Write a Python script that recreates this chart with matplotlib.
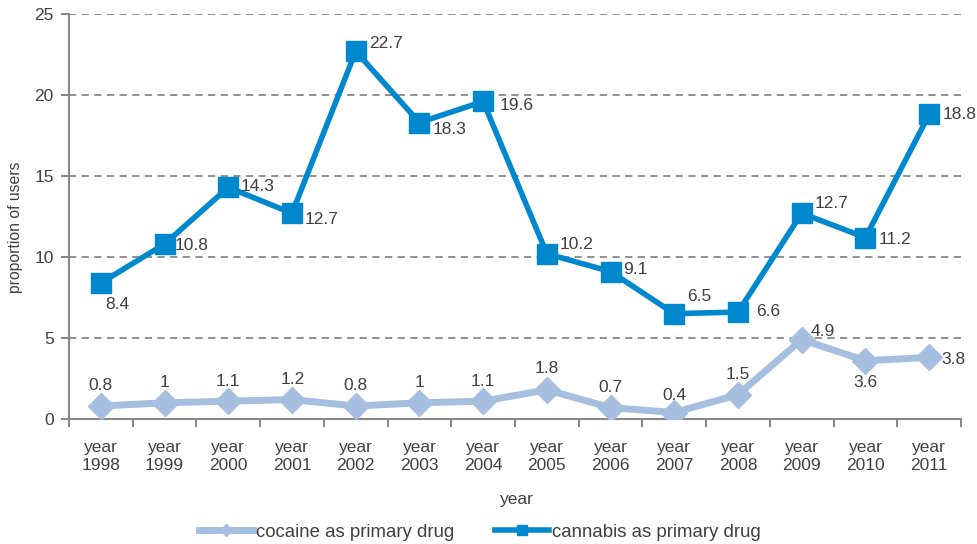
import matplotlib
matplotlib.use("Agg")
import matplotlib.pyplot as plt
import numpy as np

plt.rcParams['font.family'] = ['Liberation Sans', 'DejaVu Sans']

years = ["year\n1998", "year\n1999", "year\n2000", "year\n2001", "year\n2002", "year\n2003", "year\n2004",
         "year\n2005", "year\n2006", "year\n2007", "year\n2008", "year\n2009", "year\n2010", "year\n2011"]
cocaine = [0.8, 1, 1.1, 1.2, 0.8, 1, 1.1, 1.8, 0.7, 0.4, 1.5, 4.9, 3.6, 3.8]
cannabis = [8.4, 10.8, 14.3, 12.7, 22.7, 18.3, 19.6, 10.2, 9.1, 6.5, 6.6, 12.7, 11.2, 18.8]
cocaine_labels = ["0.8", "1", "1.1", "1.2", "0.8", "1", "1.1", "1.8", "0.7", "0.4", "1.5", "4.9", "3.6", "3.8"]
cannabis_labels = ["8.4", "10.8", "14.3", "12.7", "22.7", "18.3", "19.6", "10.2", "9.1", "6.5", "6.6", "12.7", "11.2", "18.8"]

# label offsets in pixels (dx, dy with y up); cannabis labels are left-aligned
cannabis_off = [(4, -22), (10, -1), (12, 1), (13, -6), (13, 8), (13, -7), (16, -4),
                (13, 9), (13, 2), (13, 17), (18, 1), (13, 10), (13, -2), (13, 0)]
cannabis_ha = ["left"] * 14
cocaine_off = [(0, 21), (0, 20), (0, 20), (1, 20), (0, 21), (0, 20), (0, 20),
               (0, 21), (0, 20), (0, 17), (0, 20), (9, 8), (0, -22), (12, -2)]
cocaine_ha = ["center"] * 11 + ["left", "center", "left"]

W, H = 977, 544
fig = plt.figure(figsize=(W / 100, H / 100), dpi=100)
ax = fig.add_axes([69 / W, 1 - 419 / H, (961 - 69) / W, (419 - 14) / H])

x = np.arange(len(years))
c_coc = "#A6BFE0"
c_can = "#0088CF"

ax.plot(x, cocaine, color=c_coc, lw=5, marker="D", ms=13, mec=c_coc, mfc=c_coc,
        label="cocaine as primary drug", zorder=3, solid_joinstyle="miter")
ax.plot(x, cannabis, color=c_can, lw=4, marker="s", ms=14.5, mec=c_can, mfc=c_can,
        label="cannabis as primary drug", zorder=4, solid_joinstyle="miter")

txtc = "#404040"
fs = 12.5
for xi, v, lab, (dx, dy), ha in zip(x, cannabis, cannabis_labels, cannabis_off, cannabis_ha):
    ax.annotate(lab, (xi, v), xytext=(dx, dy), textcoords="offset pixels",
                ha=ha, va="center", fontsize=fs, color=txtc, zorder=5)
for xi, v, lab, (dx, dy), ha in zip(x, cocaine, cocaine_labels, cocaine_off, cocaine_ha):
    ax.annotate(lab, (xi, v), xytext=(dx, dy), textcoords="offset pixels",
                ha=ha, va="center", fontsize=fs, color=txtc, zorder=5)

ax.set_xlim(-0.5, len(years) - 0.5)
ax.set_ylim(0, 25)
ax.set_yticks([0, 5, 10, 15, 20, 25])
ax.set_xticks(x)
ax.set_xticklabels(years, fontsize=fs, color=txtc, linespacing=1.3)
ax.set_xticks(np.arange(-0.5, len(years), 1), minor=True)
ax.tick_params(axis="x", which="major", length=0, pad=15)
ax.tick_params(axis="x", which="minor", length=6, color="#888888", width=1.5)
ax.tick_params(axis="y", length=6, color="#888888", width=1.5, labelsize=fs, labelcolor=txtc, pad=5)

ax.grid(axis="y", color="#888888", ls=(0, (4, 3)), lw=1.3)
ax.set_axisbelow(True)
for s in ["top", "right"]:
    ax.spines[s].set_visible(False)
for s in ["left", "bottom"]:
    ax.spines[s].set_color("#888888")
    ax.spines[s].set_linewidth(1.5)

ax.set_ylabel("proportion of users", fontsize=11.3, color=txtc)
ax.yaxis.set_label_coords(-0.0516, 0.474)
ax.set_xlabel("year", fontsize=fs, color=txtc)
ax.xaxis.set_label_coords(0.502, -0.18)

leg = fig.legend(loc="center", bbox_to_anchor=(480 / W, 1 - 532 / H), ncol=2, frameon=False,
                 fontsize=13.4, handlelength=2.9, columnspacing=2.2, handletextpad=0.15,
                 markerscale=0.45, borderpad=0.1)
for t in leg.get_texts():
    t.set_color(txtc)

fig.savefig("out.png", dpi=100)
